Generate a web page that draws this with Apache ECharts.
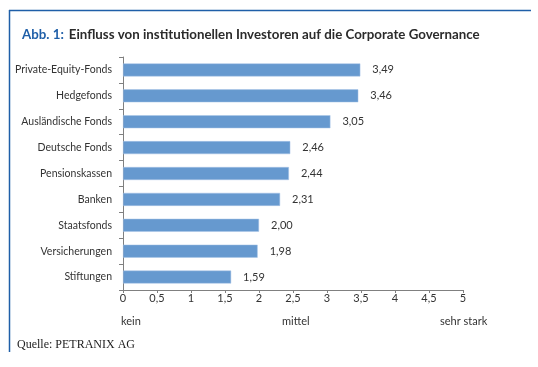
<!DOCTYPE html>
<html><head><meta charset="utf-8">
<script src="https://cdn.jsdelivr.net/npm/echarts@6/dist/echarts.min.js"></script>
<style>html,body{margin:0;padding:0;background:#fff}#c{width:538px;height:367px}</style>
</head><body><div id="c"></div>
<script>
const categories = ["Private-Equity-Fonds","Hedgefonds","Ausländische Fonds","Deutsche Fonds","Pensionskassen","Banken","Staatsfonds","Versicherungen","Stiftungen"];
const values = [3.49,3.46,3.05,2.46,2.44,2.31,2.00,1.98,1.59];
const xTicks = [0,0.5,1,1.5,2,2.5,3,3.5,4,4.5,5];
const scaleLabels = ["kein","mittel","sehr stark"];

const chart = echarts.init(document.getElementById('c'), null, {renderer:'canvas'});
const font = 'Lato, sans-serif';
chart.setOption({
  animation:false,
  title:{
    text:'{a|Abb. 1:} {b|Einfluss von institutionellen Investoren auf die Corporate Governance}',
    left:17, top:21,
    textStyle:{rich:{
      a:{fontFamily:font,fontWeight:'bold',fontSize:13.3,color:'#1f5fa8'},
      b:{fontFamily:font,fontWeight:'bold',fontSize:13.3,color:'#2b2b2b'}
    }}
  },
  grid:{left:123,right:75,top:57,bottom:77,containLabel:false},
  xAxis:{
    type:'value',min:0,max:5,interval:0.5,
    axisLine:{show:true,lineStyle:{color:'#808080'}},
    axisTick:{show:true,length:3,lineStyle:{color:'#808080'}},
    splitLine:{show:false},
    axisLabel:{fontFamily:font,fontSize:11,color:'#333',margin:3,
      formatter:v=>String(v).replace('.',',')}
  },
  yAxis:{
    type:'category',data:categories,inverse:true,
    axisLine:{show:true,lineStyle:{color:'#808080'}},
    axisTick:{show:true,length:4,lineStyle:{color:'#808080'}},
    axisLabel:{fontFamily:font,fontSize:10.5,color:'#333',margin:11}
  },
  series:[{
    type:'bar',data:values,barWidth:13,
    itemStyle:{color:'#6699cf',borderColor:'#a9c4e6',borderWidth:0.5},
    label:{show:true,position:'right',distance:12,fontFamily:font,fontSize:11,color:'#333',
      formatter:p=>p.value.toFixed(2).replace('.',',')}
  }],
  graphic:[
    {type:'line',shape:{x1:9,y1:10.5,x2:531,y2:10.5},style:{stroke:'#1f5fa8',lineWidth:1.5}},
    {type:'line',shape:{x1:9.5,y1:10,x2:9.5,y2:352},style:{stroke:'#1f5fa8',lineWidth:1.5}},
    {type:'text',left:121,top:316,style:{text:scaleLabels[0],font:'11px '+font,fill:'#333'}},
    {type:'text',left:282,top:316,style:{text:scaleLabels[1],font:'11px '+font,fill:'#333'}},
    {type:'text',left:440,top:316,style:{text:scaleLabels[2],font:'11px '+font,fill:'#333'}},
    {type:'text',left:17,top:339,style:{text:'Quelle: PETRANIX AG',font:'12px "Liberation Serif", serif',fill:'#222'}}
  ]
});
</script></body></html>
